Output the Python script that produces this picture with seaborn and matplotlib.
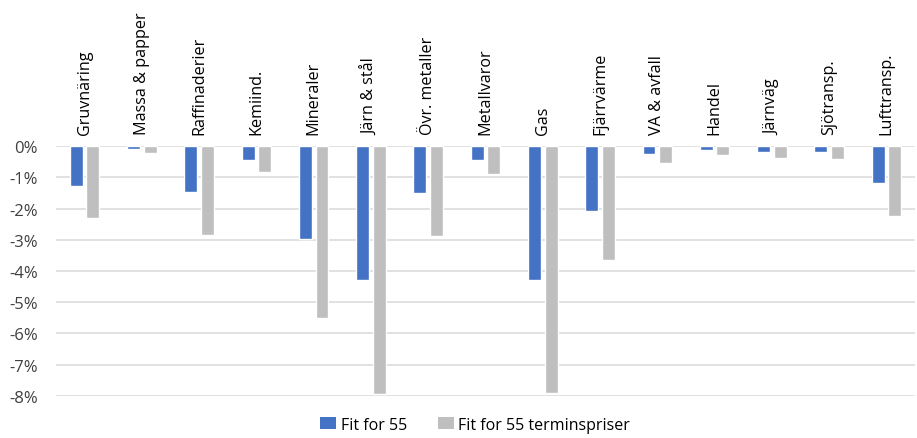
import matplotlib
matplotlib.use("Agg")
import matplotlib.pyplot as plt
from matplotlib.ticker import FuncFormatter, MultipleLocator
import seaborn as sns
import pandas as pd

sectors = ["Gruvnäring", "Massa & papper", "Raffinaderier", "Kemiind.", "Mineraler",
           "Järn & stål", "Övr. metaller", "Metallvaror", "Gas", "Fjärrvärme",
           "VA & avfall", "Handel", "Järnväg", "Sjötransp.", "Lufttransp."]
fit_for_55 = [-1.28, -0.09, -1.48, -0.45, -2.97, -4.28, -1.51, -0.43, -4.28, -2.09,
              -0.25, -0.11, -0.17, -0.17, -1.18]
fit_for_55_termin = [-2.31, -0.21, -2.84, -0.81, -5.52, -7.95, -2.87, -0.88, -7.91, -3.66,
                     -0.52, -0.29, -0.39, -0.41, -2.24]
series_names = ["Fit for 55", "Fit for 55 terminspriser"]
colors = ["#4472C4", "#BFBFBF"]

df = pd.DataFrame({
    "sektor": sectors * 2,
    "serie": [series_names[0]] * len(sectors) + [series_names[1]] * len(sectors),
    "varde": fit_for_55 + fit_for_55_termin,
})

sns.set_theme(style="white")
plt.rcParams["font.family"] = ["Open Sans", "DejaVu Sans"]

fig = plt.figure(figsize=(9.17, 4.39), dpi=100)
ax = fig.add_axes([56 / 917, 1 - 396.7 / 439, 859 / 917, 249.4 / 439])

sns.barplot(data=df, x="sektor", y="varde", hue="serie", palette=colors,
            width=0.58, gap=0.22, saturation=1, ax=ax, zorder=3, legend=False)

ax.set_ylim(-8, 0)
ax.yaxis.set_major_locator(MultipleLocator(1))
ax.yaxis.set_major_formatter(FuncFormatter(lambda v, p: f"{int(round(v))}%"))
ax.grid(axis="y", color="#D9D9D9", linewidth=1.1, zorder=0)
ax.grid(axis="x", visible=False)
for s in ax.spines.values():
    s.set_visible(False)

ax.xaxis.tick_top()
ax.xaxis.set_label_position("top")
ax.tick_params(axis="x", length=0, pad=9, labelsize=11.6, rotation=90, colors="#000000")
ax.tick_params(axis="y", length=0, pad=13, labelsize=12, colors="#404040")
for lbl in ax.get_xticklabels():
    lbl.set_verticalalignment("bottom")
ax.set_xlabel("")
ax.set_ylabel("")

handles = [plt.Rectangle((0, 0), 1, 1, facecolor=c, edgecolor="none") for c in colors]
leg = ax.legend(handles, series_names, loc="upper center", bbox_to_anchor=(0.488, -0.045),
                ncol=2, frameon=False, fontsize=11.5, handlelength=1.0, handleheight=0.8,
                columnspacing=1.9, handletextpad=0.3, borderpad=0.1)
for t in leg.get_texts():
    t.set_color("#000000")

fig.savefig("out.png", dpi=100)
